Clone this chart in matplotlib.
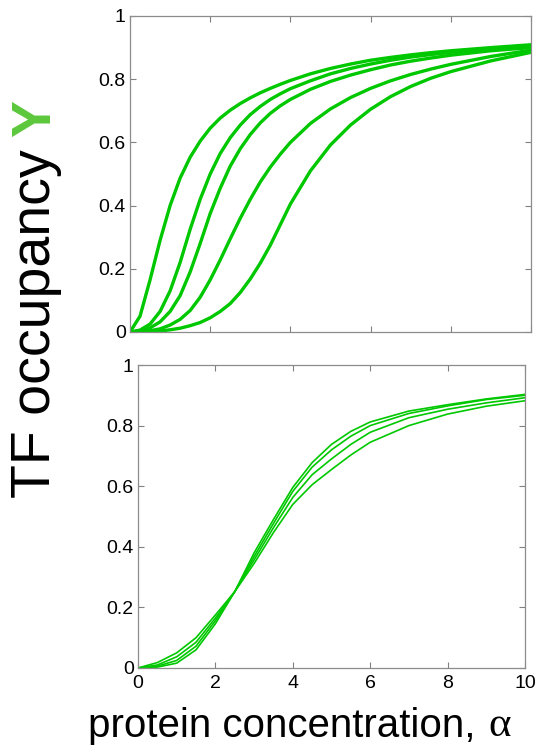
import numpy as np
import matplotlib
matplotlib.use("Agg")
import matplotlib.pyplot as plt

plt.rcParams["font.family"] = ["Liberation Sans", "DejaVu Sans"]

# top panel: five occupancy curves
x_top = [0, 0.25, 0.5, 0.75, 1.0, 1.25, 1.5, 1.75, 2.0, 2.25, 2.5, 2.75, 3.0, 3.25, 3.5, 3.75,
         4.0, 4.5, 5.0, 5.5, 6.0, 6.5, 7.0, 7.5, 8.0, 9.0, 10.0]
top_a = [0, 0.05, 0.165, 0.29, 0.40, 0.487, 0.553, 0.604, 0.645, 0.677, 0.702, 0.723, 0.741, 0.757, 0.771, 0.784,
         0.796, 0.817, 0.834, 0.848, 0.86, 0.869, 0.877, 0.884, 0.89, 0.90, 0.909]
top_b = [0, 0.006, 0.025, 0.065, 0.13, 0.22, 0.325, 0.42, 0.50, 0.565, 0.615, 0.655, 0.688, 0.714, 0.736, 0.754,
         0.77, 0.795, 0.817, 0.834, 0.848, 0.86, 0.87, 0.878, 0.885, 0.897, 0.906]
top_c = [0, 0.003, 0.013, 0.032, 0.065, 0.115, 0.19, 0.28, 0.375, 0.455, 0.525, 0.58, 0.625, 0.662, 0.692, 0.716,
         0.736, 0.768, 0.793, 0.813, 0.83, 0.845, 0.857, 0.867, 0.876, 0.89, 0.90]
top_d = [0, 0.001, 0.004, 0.01, 0.022, 0.04, 0.068, 0.11, 0.165, 0.228, 0.295, 0.36, 0.42, 0.475, 0.522, 0.563,
         0.60, 0.66, 0.706, 0.742, 0.771, 0.795, 0.815, 0.832, 0.847, 0.872, 0.892]
top_e = [0, 0.0, 0.001, 0.003, 0.007, 0.012, 0.02, 0.03, 0.045, 0.065, 0.09, 0.125, 0.168, 0.218, 0.275, 0.34,
         0.405, 0.51, 0.592, 0.655, 0.705, 0.745, 0.777, 0.803, 0.824, 0.858, 0.885]

# bottom panel: four curves crossing near alpha = 2.5
x_bot = [0, 0.5, 1, 1.5, 2, 2.5, 3, 3.5, 4, 4.5, 5, 5.5, 6, 7, 8, 9, 10]
bot_1 = [0, 0.018, 0.05, 0.1, 0.175, 0.252, 0.345, 0.447, 0.54, 0.605, 0.655, 0.703, 0.745, 0.80, 0.838, 0.864, 0.882]
bot_2 = [0, 0.01, 0.037, 0.085, 0.165, 0.252, 0.357, 0.463, 0.563, 0.638, 0.69, 0.738, 0.778, 0.826, 0.854, 0.875, 0.892]
bot_3 = [0, 0.006, 0.025, 0.072, 0.156, 0.252, 0.368, 0.477, 0.583, 0.663, 0.72, 0.765, 0.80, 0.84, 0.865, 0.886, 0.90]
bot_4 = [0, 0.003, 0.016, 0.06, 0.146, 0.252, 0.38, 0.49, 0.596, 0.678, 0.738, 0.781, 0.812, 0.848, 0.869, 0.888, 0.903]

x_ticks = [0, 2, 4, 6, 8, 10]
y_ticks = [0, 0.2, 0.4, 0.6, 0.8, 1]
y_ticklabels = ["0", "0.2", "0.4", "0.6", "0.8", "1"]

line_green = "#00c800"
label_green = "#5cc83c"

W, H = 539, 752
fig = plt.figure(figsize=(W / 100, H / 100), dpi=100)

ax1 = fig.add_axes([130 / W, 1 - 332 / H, 401 / W, 316 / H])
ax2 = fig.add_axes([138 / W, 1 - 668 / H, 387 / W, 303 / H])

for y in [top_a, top_b, top_c, top_d, top_e]:
    ax1.plot(x_top, y, color=line_green, lw=2.4, solid_joinstyle="round", solid_capstyle="round")
for y in [bot_1, bot_2, bot_3, bot_4]:
    ax2.plot(x_bot, y, color=line_green, lw=1.2, solid_joinstyle="round")

for ax in (ax1, ax2):
    ax.set_xlim(0, 10)
    ax.set_ylim(0, 1)
    ax.set_xticks(x_ticks)
    ax.set_yticks(y_ticks)
    ax.set_yticklabels(y_ticklabels)
    ax.tick_params(direction="in", length=4, width=0.8, color="#808080",
                   top=True, right=True, labelsize=14, pad=3, labelcolor="black")
    for s in ax.spines.values():
        s.set_color("#8c8c8c")
        s.set_linewidth(0.9)

ax1.set_xticklabels([])
ax2.tick_params(axis="x", pad=5)

# x label, alpha set in a serif face like the original
xl = fig.text(88 / W, 1 - 726 / H, "protein concentration, ", fontsize=29,
              ha="left", va="center")
fig.canvas.draw()
xb = xl.get_window_extent()
fig.text((xb.x1 + 2) / W, 1 - 726 / H, "\u03b1", fontsize=31, family="Liberation Serif",
         ha="left", va="center")

t = fig.text(36 / W, 1 - 498 / H, "TF occupancy", fontsize=40, rotation=90,
             ha="center", va="bottom")
fig.canvas.draw()
bb = t.get_window_extent()
fig.text(36 / W, (bb.y1 + 12) / H, "Y", fontsize=40, rotation=90, color=label_green,
         fontweight="bold", ha="center", va="bottom")

fig.savefig("out.png", dpi=100)
